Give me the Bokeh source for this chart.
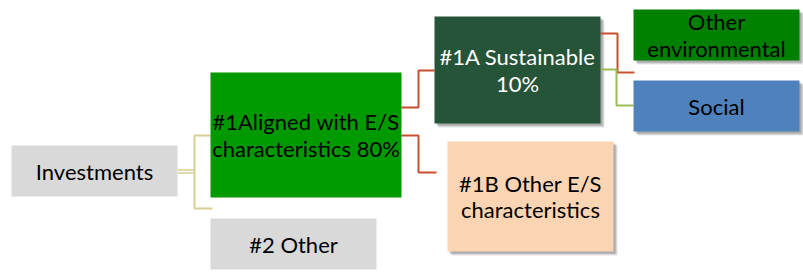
from bokeh.plotting import figure
from bokeh.models import Range1d, ColumnDataSource
from bokeh.core.properties import value
from bokeh.embed import file_html
from bokeh.resources import INLINE

# Diagram content
labels = ["Investments", "#1Aligned with E/S\ncharacteristics 80%", "#2 Other",
          "#1A Sustainable\n10%", "#1B Other E/S\ncharacteristics",
          "Other\nenvironmental", "Social"]
fills = ["#D9D9D9", "#009900", "#D9D9D9", "#265439", "#FBD4B4", "#008000", "#4F81BD"]
text_colors = ["#000000", "#000000", "#000000", "#FFFFFF", "#000000", "#000000", "#000000"]
shadowed = [False, False, False, True, True, True, True]

# Layout (reference pixel space)
x0 = [11, 210, 210, 434, 447, 633, 633]
x1 = [177, 401, 376, 600, 613, 799, 799]
y0 = [145, 72, 218, 16, 141, 9, 80]
y1 = [196, 197, 269, 123, 251, 60, 131]

W, H = 803, 278
p = figure(width=W, height=H, output_backend="svg", toolbar_location=None,
           x_range=Range1d(0, W), y_range=Range1d(H, 0),
           min_border=0)
p.axis.visible = False
p.grid.visible = False
p.outline_line_color = None
p.background_fill_color = "white"

# shadows
for i in range(len(labels)):
    if shadowed[i]:
        for k, a in [(4, 0.10), (3, 0.12), (2, 0.15)]:
            p.quad(left=x0[i] + k, right=x1[i] + k, top=y0[i] + k, bottom=y1[i] + k,
                   fill_color="#000000", fill_alpha=a, line_color=None)

# connectors
red = "#C9502F"
yel = "#D8CE92"
olive = "#9BBB59"
# Investments -> #1 / #2 (double line)
p.line([177, 194], [169.5, 169.5], line_color=yel, line_width=1.5)
p.line([177, 194], [172.5, 172.5], line_color=yel, line_width=1.5)
p.line([210, 194, 194, 212], [135, 135, 208, 208], line_color=yel, line_width=2)
# #1 -> #1A, #1B
p.line([401, 418, 418, 434], [107, 107, 70, 70], line_color=red, line_width=2)
p.line([401, 418, 418, 436], [135, 135, 172, 172], line_color=red, line_width=2)
# #1A -> Other env, Social
p.line([600, 617, 617, 634], [33, 33, 72, 72], line_color=red, line_width=2)
p.line([600, 616, 616, 633], [69, 69, 105, 105], line_color=olive, line_width=2)

# boxes
src = ColumnDataSource(dict(l=x0, r=x1, t=y0, b=y1, fill=fills))
p.quad(left="l", right="r", top="t", bottom="b", fill_color="fill", line_color=None, source=src)

cx = [(a + b) / 2 for a, b in zip(x0, x1)]
cy = [(a + b) / 2 for a, b in zip(y0, y1)]
tsrc = ColumnDataSource(dict(x=cx, y=cy, text=labels, color=text_colors))
p.text(x="x", y="y", text="text", text_color="color", source=tsrc,
       text_align="center", text_baseline="middle", text_font=value("Lato"),
       text_font_size="22px", text_line_height=0.98)

open("out.html", "w").write(file_html(p, INLINE))
